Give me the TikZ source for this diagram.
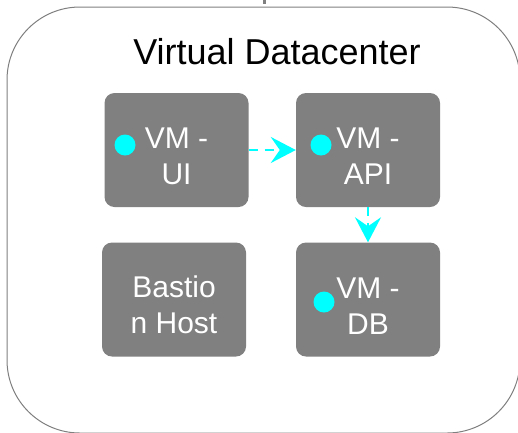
\documentclass[tikz,border=0pt]{standalone}
\usepackage{fontspec}
\setmainfont{Liberation Sans}
\usepackage{xcolor}
\usepackage{tikz}
\usetikzlibrary{arrows.meta}
\definecolor{vmgray}{HTML}{808080}
\definecolor{edge}{HTML}{7F7F7F}
\definecolor{flow}{HTML}{00FFFF}
\tikzset{
  dc/.style={draw=edge, line width=1pt, rounded corners=73pt},
  vm/.style={fill=vmgray, rounded corners=10pt, minimum width=144pt, minimum height=114pt, inner sep=0pt},
  vmtext/.style={text=white, align=center, font=\fontsize{30}{36}\selectfont},
  dot/.style={circle, fill=flow, inner sep=0pt, minimum size=21pt},
  call/.style={draw=flow, line width=2.5pt, dash pattern=on 9pt off 7pt, -{Stealth[length=25pt,width=26pt,inset=9pt]}},
}

\begin{document}
\begin{tikzpicture}[x=1pt,y=-1pt]
  \useasboundingbox (0,0) rectangle (518,432);
  \clip (0,0) rectangle (518,432);

  % datacenter frame
  \draw[dc] (7,7) rectangle (520,433);
  \coordinate (feed) at (264.5,0);
  \coordinate (feedend) at (264.5,4);
  \draw[edge, line width=3pt] (feed) -- (feedend);
  \node[font=\fontsize{36}{43}\selectfont] (title) at (277,51.5) {Virtual Datacenter};

  % machines
  \node[vm] (ui) at (176.5,150) {};
  \node[vm] (api) at (368,150) {};
  \node[vm] (bastion) at (174,299.5) {};
  \node[vm] (db) at (368,299.5) {};

  \node[vmtext] (uitext) at ([yshift=-6pt]ui.center) {VM -\\UI};
  \node[vmtext] (apitext) at ([yshift=-6pt]api.center) {VM -\\API};
  \node[vmtext] (bastiontext) at ([yshift=-5pt]bastion.center) {Bastio\\n Host};
  \node[vmtext] (dbtext) at ([yshift=-7pt]db.center) {VM -\\DB};

  \node[dot] (uidot) at (125,145) {};
  \node[dot] (apidot) at (321,145) {};
  \node[dot] (dbdot) at (324,302) {};

  % calls
  \draw[call] (ui.east) -- (api.west);
  \draw[call] (api.south) -- (db.north);
\end{tikzpicture}
\end{document}
